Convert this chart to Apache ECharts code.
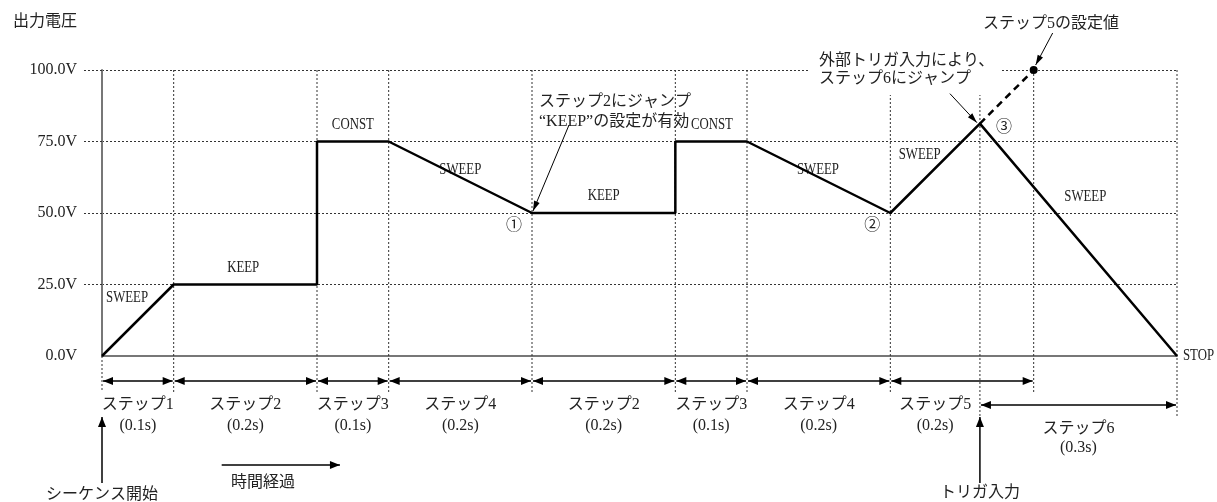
<!DOCTYPE html>
<html>
<head>
<meta charset="utf-8">
<script src="https://cdn.jsdelivr.net/npm/echarts@6/dist/echarts.min.js"></script>
<style>
  html, body { margin: 0; padding: 0; background: #fff; }
  #chart { width: 1217px; height: 502px; }
</style>
</head>
<body>
<div id="chart"></div>
<script>
// 出力電圧の推移 (時間 s, 電圧 V)
const times = [0, 0.1, 0.3, 0.3, 0.4, 0.6, 0.8, 0.8, 0.9, 1.1, 1.225, 1.5]
const volts = [0, 25, 25, 75, 75, 50, 50, 75, 75, 50, 81.25, 0]
// ステップ5の設定値へ向かう破線
const setTimes = [1.225, 1.3]
const setVolts = [81.25, 100]
// ステップの境界と名前
const boundaries = [0, 0.1, 0.3, 0.4, 0.6, 0.8, 0.9, 1.1, 1.3]
const stepNames = ['ステップ1', 'ステップ2', 'ステップ3', 'ステップ4', 'ステップ2', 'ステップ3', 'ステップ4', 'ステップ5']
const stepDurations = ['(0.1s)', '(0.2s)', '(0.1s)', '(0.2s)', '(0.2s)', '(0.1s)', '(0.2s)', '(0.2s)']
const triggerTime = 1.225
const endTime = 1.5
const yTicks = [25, 50, 75, 100]
// 各区間のモード表示 [時間, 電圧, 文字]
const modeLabels = [
  [0.035, 20.5, 'SWEEP'], [0.197, 30.8, 'KEEP'], [0.35, 81, 'CONST'],
  [0.5, 65, 'SWEEP'], [0.7, 56, 'KEEP'], [0.851, 81, 'CONST'],
  [0.999, 65, 'SWEEP'], [1.141, 70.5, 'SWEEP'], [1.372, 55.6, 'SWEEP']
]

const SERIF = "'Liberation Serif', 'Noto Sans CJK JP', serif"
const JP = "'Liberation Serif', 'Noto Sans CJK JP', sans-serif"
const INK = '#222'

const chart = echarts.init(document.getElementById('chart'))

chart.setOption({
  animation: false,
  grid: { left: 102, right: 40, top: 70, bottom: 146 },
  xAxis: {
    type: 'value',
    min: 0,
    max: endTime,
    axisLine: { lineStyle: { color: '#777', width: 2 } },
    axisTick: { show: false },
    axisLabel: { show: false },
    splitLine: { show: false }
  },
  yAxis: {
    type: 'value',
    min: 0,
    max: 100,
    interval: 25,
    name: '出力電圧',
    nameLocation: 'end',
    nameGap: 40,
    nameTextStyle: { align: 'right', padding: [0, 25, 0, 0], color: INK, fontFamily: JP, fontSize: 16 },
    axisLine: { show: true, lineStyle: { color: '#777', width: 2 } },
    axisTick: { show: true, length: 20, customValues: yTicks, lineStyle: { color: '#333', type: [2, 2] } },
    axisLabel: { margin: 25, color: INK, fontFamily: SERIF, fontSize: 16, formatter: v => v.toFixed(1) + 'V' },
    splitLine: { lineStyle: { color: '#333', type: [2, 2] } }
  },
  series: [
    {
      type: 'line',
      data: times.map((t, i) => [t, volts[i]]),
      symbol: 'none',
      lineStyle: { color: '#000', width: 2.5 },
      clip: false,
      z: 20
    },
    {
      type: 'line',
      data: setTimes.map((t, i) => [t, setVolts[i]]),
      symbol: 'circle',
      symbolSize: (v, p) => (p.dataIndex === 1 ? 8 : 0),
      itemStyle: { color: '#000' },
      lineStyle: { color: '#000', width: 2.5, type: [7, 5] },
      clip: false,
      z: 20
    }
  ]
})

// ---- 注釈 ----
const px = (t, v) => chart.convertToPixel({ gridIndex: 0 }, [t, v])
const baseY = px(0, 0)[1]
const topY = px(0, 100)[1]
const X = t => px(t, 0)[0]

function head(tip, from, len, half) {
  const dx = tip[0] - from[0], dy = tip[1] - from[1]
  const d = Math.hypot(dx, dy), ux = dx / d, uy = dy / d
  const bx = tip[0] - ux * len, by = tip[1] - uy * len
  return {
    type: 'polygon', z: 12,
    shape: { points: [tip, [bx - uy * half, by + ux * half], [bx + uy * half, by - ux * half]] },
    style: { fill: '#000' }
  }
}
function arrow(a, b, both, w, len, half) {
  const els = [{
    type: 'line', z: 12,
    shape: { x1: a[0], y1: a[1], x2: b[0], y2: b[1] },
    style: { stroke: '#000', lineWidth: w || 1.5 }
  }]
  els.push(head(b, a, len || 10, half || 4))
  if (both) els.push(head(a, b, len || 10, half || 4))
  return els
}
function vdot(x, y1, y2) {
  return { type: 'line', z: 1, shape: { x1: x, y1: y1, x2: x, y2: y2 }, style: { stroke: '#333', lineWidth: 1, lineDash: [2, 2] } }
}
function txt(x, y, s, align, size, family, sx) {
  return {
    type: 'text', z: 13, x: x, y: y, scaleX: sx || 1,
    style: {
      text: s, fill: INK, fontSize: size || 16, fontFamily: family || JP,
      align: align || 'center', verticalAlign: 'middle',
      textAlign: align || 'center', textVerticalAlign: 'middle'
    }
  }
}

const els = []
const rowY = baseY + 25

// 縦の点線
els.push(vdot(X(0), baseY, baseY + 36))
boundaries.slice(1).forEach(t => els.push(vdot(X(t), topY, baseY + 36)))
els.push(vdot(X(triggerTime), topY, baseY + 60))
els.push(vdot(X(endTime), topY, baseY + 60))

// ステップ区間の矢印と名前
for (let i = 0; i < stepNames.length; i++) {
  const a = X(boundaries[i]), b = X(boundaries[i + 1])
  els.push(...arrow([a + 1, rowY], [b - 1, rowY], true, 1.5))
  const c = i === stepNames.length - 1 ? (a + X(triggerTime)) / 2 : (a + b) / 2
  els.push(txt(c, baseY + 49, stepNames[i]))
  els.push(txt(c, baseY + 70, stepDurations[i]))
}
// ステップ6
els.push(...arrow([X(triggerTime) + 1, baseY + 49], [X(endTime) - 1, baseY + 49], true, 1.5))
els.push(txt((X(triggerTime) + X(endTime)) / 2, baseY + 73, 'ステップ6'))
els.push(txt((X(triggerTime) + X(endTime)) / 2, baseY + 92, '(0.3s)'))

// シーケンス開始 / トリガ入力 / 時間経過
els.push(...arrow([X(0), baseY + 127], [X(0), baseY + 61], false, 1.5))
els.push(txt(X(0), baseY + 139, 'シーケンス開始'))
els.push(...arrow([X(triggerTime), baseY + 127], [X(triggerTime), baseY + 61], false, 1.5))
els.push(txt(X(triggerTime), baseY + 137, 'トリガ入力'))
els.push(...arrow([X(0.167), baseY + 109], [X(0.332), baseY + 109], false, 1.5))
els.push(txt(X(0.18), baseY + 127, '時間経過', 'left'))

// モード表示
modeLabels.forEach(m => {
  const p = px(m[0], m[1])
  els.push(txt(p[0], p[1], m[2], 'center', 16, SERIF, 0.8))
})
const stopP = px(endTime, 0)
els.push(txt(stopP[0] + 6, stopP[1], 'STOP', 'left', 16, SERIF, 0.8))

// 丸数字
const p1 = px(0.6, 50), p2 = px(1.1, 50), p3 = px(triggerTime, 81.25), pSet = px(1.3, 100)
els.push(txt(p1[0] - 18, p1[1] + 13, '①'))
els.push(txt(p2[0] - 18, p2[1] + 13, '②'))
els.push(txt(p3[0] + 24, p3[1] + 4, '③'))

// ジャンプの説明
els.push(txt(539, 102, 'ステップ2にジャンプ', 'left'))
els.push(txt(539, 122, '“KEEP”の設定が有効', 'left'))
els.push(...arrow([p1[0] + 37, p1[1] - 88], [p1[0] + 1, p1[1] - 2], false, 1, 10, 3))

els.push({ type: 'rect', z: 10, shape: { x: 808, y: 48, width: 192, height: 47 }, style: { fill: '#fff' } })
els.push(txt(819, 61, '外部トリガ入力により、', 'left'))
els.push(txt(819, 79, 'ステップ6にジャンプ', 'left'))
els.push(...arrow([p3[0] - 30, p3[1] - 30], [p3[0] - 3, p3[1] - 1], false, 1, 10, 3))

els.push(txt(983, 24, 'ステップ5の設定値', 'left'))
els.push(...arrow([pSet[0] + 19, pSet[1] - 37], [pSet[0] + 2, pSet[1] - 5], false, 1, 10, 3))

chart.setOption({ graphic: { elements: els } })
</script>
</body>
</html>
